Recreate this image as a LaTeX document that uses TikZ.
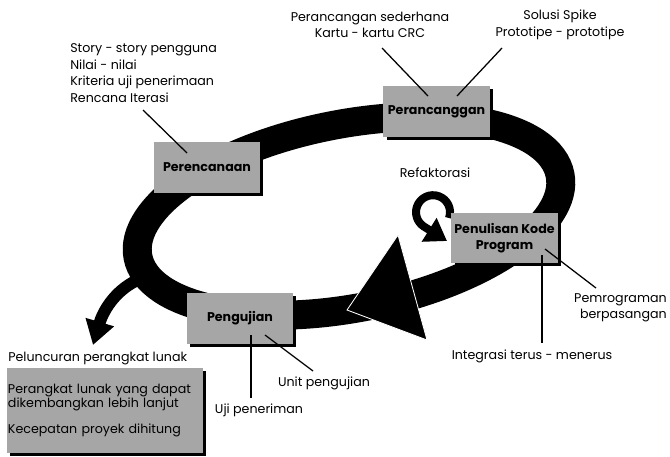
\documentclass[tikz,border=0pt]{standalone}
\usepackage{fontspec}
\setmainfont{Poppins}
\definecolor{xpgray}{RGB}{166,166,166}
\usetikzlibrary{arrows.meta,shadows}
\newcommand{\tightlines}{\lineskiplimit-10pt\relax}

\begin{document}
\begin{tikzpicture}[x=0.025cm, y=-0.025cm,
  stage/.style={
    rectangle, fill=xpgray, inner sep=0pt,
    minimum width=2.65cm, minimum height=1.26cm,
    align=center, font=\fontsize{9}{11}\selectfont\bfseries, text=black,
    drop shadow={shadow xshift=2.2pt, shadow yshift=-2.2pt, fill=black, opacity=1}
  },
  note/.style={inner sep=0pt, font=\fontsize{9}{11.7}\selectfont},
  pointer/.style={draw=black, line width=0.9pt},
  cycleband/.style={draw=black, line width=20.6pt},
  shipline/.style={draw=black, line width=8.5pt, -{Triangle[length=17pt, width=20pt]}},
  refline/.style={draw=black, line width=5.7pt, -{Triangle[length=15pt, width=19pt]}}
]
\useasboundingbox (0,0) rectangle (670,456);

% Loop band
\coordinate (mid) at (349,216);
\draw[cycleband, rotate around={11:(mid)}] (mid) ellipse [x radius=215, y radius=92];

% Release branch
\coordinate (shipstart) at (140,279);
\coordinate (shiptip) at (93,345);
\draw[shipline] (shipstart) .. controls (118,288) and (104,308) .. (shiptip);

% Big head on the band
\coordinate (headtop) at (398,235);
\coordinate (headtip) at (347,310);
\coordinate (headbot) at (427,340);
\fill[black, draw=white, line width=0.6pt] (headtop) -- (headtip) -- (headbot) -- cycle;

% Refactoring loop
\coordinate (refstart) at (449,218);
\coordinate (reftip) at (447,241);
\draw[refline] (refstart) arc [start angle=20, end angle=-237, radius=17] -- (reftip);

% Stages
\node[stage] (plan) at (207,167.5) {Perencanaan};
\node[stage] (design) at (436.5,111.5) {Perancanggan};
\node[stage] (code) at (504.5,238) {Penulisan Kode\\Program};
\node[stage] (test) at (240,318.5) {Pengujian};
\node[stage, minimum width=4.9cm, minimum height=2.12cm, align=left,
  font={\fontsize{9}{9.3}\selectfont\tightlines}, text width=4.85cm] (ship) at (105,410.5) {
  Perangkat lunak yang dapat\\
  dikembangkan lebih lanjut\\[9.2pt]
  Kecepatan proyek dihitung
};

% Notes
\node[note, anchor=west, align=left] (plannote) at (70,73) {
  Story - story pengguna\\
  Nilai - nilai\\
  Kriteria uji penerimaan\\
  Rencana Iterasi
};
\node[note, align=center] (simple) at (370,25) {Perancangan sederhana\\Kartu - kartu CRC};
\node[note, align=center] (spike) at (560,25) {Solusi Spike\\Prototipe - prototipe};
\node[note] (refac) at (435,173) {Refaktorasi};
\node[note, anchor=east, align=right] (pair) at (667,308) {Pemrograman\\berpasangan};
\node[note] (integ) at (532,356) {Integrasi terus - menerus};
\node[note] (unit) at (324,383) {Unit pengujian};
\node[note] (accept) at (259,410) {Uji peneriman};
\node[note, anchor=west] (shiptitle) at (8,359) {Peluncuran perangkat lunak};

% Pointers
\coordinate (p1a) at (143,110);  \coordinate (p1b) at (187,153);
\coordinate (p2a) at (382,48);   \coordinate (p2b) at (428,96);
\coordinate (p3a) at (502,48);   \coordinate (p3b) at (457,96);
\coordinate (p4a) at (545,249);  \coordinate (p4b) at (596,288);
\coordinate (p5a) at (542,255);  \coordinate (p5b) at (542,343);
\coordinate (p6a) at (251,335);  \coordinate (p6b) at (251,398);
\coordinate (p7a) at (265,335);  \coordinate (p7b) at (313,371);
\draw[pointer] (p1a) -- (p1b);
\draw[pointer] (p2a) -- (p2b);
\draw[pointer] (p3a) -- (p3b);
\draw[pointer] (p4a) -- (p4b);
\draw[pointer] (p5a) -- (p5b);
\draw[pointer] (p6a) -- (p6b);
\draw[pointer] (p7a) -- (p7b);
\end{tikzpicture}
\end{document}
